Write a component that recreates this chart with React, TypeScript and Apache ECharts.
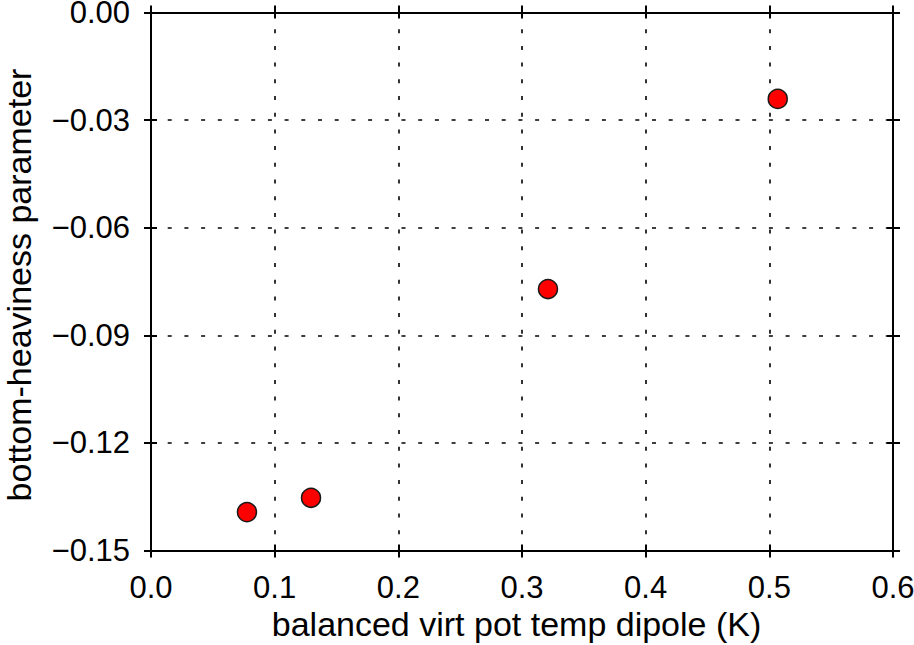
import React, { useEffect, useRef } from "react";
import * as echarts from "echarts";

const xValues = [0.0776, 0.1294, 0.321, 0.5068];
const yValues = [-0.1393, -0.1353, -0.0771, -0.0241];
const xTicks = { min: 0, max: 0.6, interval: 0.1 };
const yTicks = { min: -0.15, max: 0, interval: 0.03 };
const xName = "balanced virt pot temp dipole (K)";
const yName = "bottom-heaviness parameter";

const FONT = "Liberation Sans, Arial, Helvetica, sans-serif";

export default function App() {
  const ref = useRef<HTMLDivElement>(null);
  useEffect(() => {
    if (!ref.current) return;
    const chart = echarts.init(ref.current, null, { renderer: "svg" });
    const gridLine = {
      show: true,
      lineStyle: { color: "#000", width: 1.6, type: [4, 12.7] as any },
    };
    const mkX = (pos: string, main: boolean, inside: boolean) => ({
      type: "value",
      position: pos,
      min: xTicks.min,
      max: xTicks.max,
      interval: xTicks.interval,
      name: main ? xName : undefined,
      nameLocation: "middle",
      nameGap: 51,
      nameTextStyle: { fontFamily: FONT, fontSize: 34, color: "#000", padding: [0, 11, 0, 0] },
      axisLine: { show: !inside, onZero: false, lineStyle: { color: "#000", width: 2 } },
      axisTick: { show: true, inside, length: inside ? 6 : 7, lineStyle: { color: "#000", width: 2 } },
      axisLabel: {
        show: main,
        margin: 21,
        fontFamily: FONT,
        fontSize: 31,
        color: "#000",
        formatter: (v: number) => v.toFixed(1),
      },
      splitLine: main ? gridLine : { show: false },
    });
    const fmtY = (v: number) => {
      const s = Math.abs(v).toFixed(2);
      return v < -1e-9 ? "\u2212" + s : s;
    };
    const mkY = (pos: string, main: boolean, inside: boolean) => ({
      type: "value",
      position: pos,
      min: yTicks.min,
      max: yTicks.max,
      interval: yTicks.interval,
      name: main ? yName : undefined,
      nameLocation: "middle",
      nameGap: 117,
      nameTextStyle: {
        fontFamily: FONT,
        fontSize: 34,
        lineHeight: 30,
        color: "#000",
        padding: [0, 7, 0, 0],
      },
      axisLine: { show: !inside, onZero: false, lineStyle: { color: "#000", width: 2 } },
      axisTick: { show: true, inside, length: inside ? 6 : 7, lineStyle: { color: "#000", width: 2 } },
      axisLabel: {
        show: main,
        margin: 21,
        fontFamily: FONT,
        fontSize: 31,
        lineHeight: 22,
        color: "#000",
        formatter: fmtY,
      },
      splitLine: main ? gridLine : { show: false },
    });
    chart.setOption({
      animation: false,
      backgroundColor: "#fff",
      grid: {
        left: 151,
        right: 21,
        top: 12.5,
        bottom: 94.5,
        containLabel: false,
        outerBoundsMode: "none",
      },
      xAxis: [
        mkX("bottom", true, false),
        mkX("bottom", false, true),
        mkX("top", false, false),
        mkX("top", false, true),
      ],
      yAxis: [
        mkY("left", true, false),
        mkY("left", false, true),
        mkY("right", false, false),
        mkY("right", false, true),
      ],
      series: [
        {
          type: "scatter",
          xAxisIndex: 0,
          yAxisIndex: 0,
          symbol: "circle",
          symbolSize: 19,
          itemStyle: { color: "#ff0000", borderColor: "#1a1a1a", borderWidth: 1.5, opacity: 1 },
          data: xValues.map((x, i) => [x, yValues[i]]),
          z: 10,
        },
      ],
    });
    return () => chart.dispose();
  }, []);
  return (
    <div
      ref={ref}
      style={{ position: "fixed", left: 0, top: 0, width: 914, height: 645, background: "#fff" }}
    />
  );
}
